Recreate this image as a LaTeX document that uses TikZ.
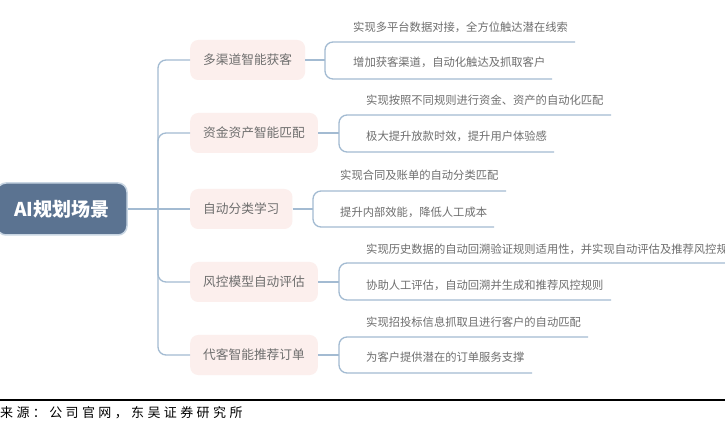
\documentclass[tikz,border=0pt]{standalone}
\usepackage{fontspec}
\setmainfont{Noto Sans CJK SC}
\newfontfamily\cjk{Noto Sans CJK SC}
\newfontfamily\cjkfoot[LetterSpace=26]{Noto Sans CJK SC}
\definecolor{lineblue}{HTML}{A3BBD2}
\definecolor{rootfill}{HTML}{5B7391}
\definecolor{rootedge}{HTML}{C9D6E3}
\definecolor{pinkfill}{HTML}{FCEFED}
\definecolor{txtgray}{HTML}{6E6E6E}
\begin{document}
\begin{tikzpicture}[x=1pt,y=-1pt,
  conn/.style={draw=lineblue,line width=1.3pt,rounded corners=8pt},
  rootbox/.style={draw=rootedge,line width=1.5pt,fill=rootfill,rounded corners=9pt,
    minimum width=130pt,minimum height=52pt,inner sep=0pt,text=white,
    font=\cjk\bfseries\fontsize{19}{22}\selectfont},
  catbox/.style={fill=pinkfill,rounded corners=8pt,inner xsep=13pt,inner ysep=0pt,
    minimum height=40pt,anchor=west,text=txtgray,font=\cjk\fontsize{12.7}{15}\selectfont},
  leaf/.style={anchor=west,inner sep=0pt,text=txtgray,font=\cjk\fontsize{11.3}{13}\selectfont},
]
\useasboundingbox (0,0) rectangle (725,427);
\fill[white] (0,0) rectangle (725,427);

% root
\node[rootbox] (root) at (62,209) {AI规划场景};

% categories
\node[catbox] (c1) at (190,60) {多渠道智能获客};
\node[catbox] (c2) at (190,133) {资金资产智能匹配};
\node[catbox] (c3) at (190,209) {自动分类学习};
\node[catbox] (c4) at (190,282) {风控模型自动评估};
\node[catbox] (c5) at (190,355) {代客智能推荐订单};

% trunk
\coordinate (tj) at (158,209);
\draw[conn] (root.east) -- (c3.west);
\draw[conn] (tj) -- (158,60) -- (c1.west);
\draw[conn] (tj) -- (158,133) -- (c2.west);
\draw[conn] (tj) -- (158,282) -- (c4.west);
\draw[conn] (tj) -- (158,355) -- (c5.west);

% c1
\coordinate (b1) at (325,60);
\coordinate (t1) at (575,42);
\coordinate (u1) at (552,79);
\draw[conn] (c1.east) -- (b1);
\draw[conn] (t1) -- (325,42) -- (325,79) -- (u1);
\node[leaf] (l1a) at (353,27) {实现多平台数据对接，全方位触达潜在线索};
\node[leaf] (l1b) at (353,62) {增加获客渠道，自动化触达及抓取客户};

% c2
\coordinate (b2) at (339,133);
\coordinate (t2) at (611,115);
\coordinate (u2) at (554,152);
\draw[conn] (c2.east) -- (b2);
\draw[conn] (t2) -- (339,115) -- (339,152) -- (u2);
\node[leaf] (l2a) at (366,100) {实现按照不同规则进行资金、资产的自动化匹配};
\node[leaf] (l2b) at (366,136) {极大提升放款时效，提升用户体验感};

% c3
\coordinate (b3) at (313,209);
\coordinate (t3) at (506,191);
\coordinate (u3) at (494,227);
\draw[conn] (c3.east) -- (b3);
\draw[conn] (t3) -- (313,191) -- (313,227) -- (u3);
\node[leaf] (l3a) at (340,175) {实现合同及账单的自动分类匹配};
\node[leaf] (l3b) at (340,212) {提升内部效能，降低人工成本};

% c4
\coordinate (b4) at (339,282);
\coordinate (t4) at (725,263);
\coordinate (u4) at (611,300);
\draw[conn] (c4.east) -- (b4);
\draw[conn] (t4) -- (339,263) -- (339,300) -- (u4);
\begin{scope}
\clip (0,0) rectangle (725,427);
\node[leaf] (l4a) at (366,249) {实现历史数据的自动回溯验证规则适用性，并实现自动评估及推荐风控规则};
\end{scope}
\node[leaf] (l4b) at (366,285) {协助人工评估，自动回溯并生成和推荐风控规则};

% c5
\coordinate (b5) at (339,355);
\coordinate (t5) at (588,337);
\coordinate (u5) at (532,373);
\draw[conn] (c5.east) -- (b5);
\draw[conn] (t5) -- (339,337) -- (339,373) -- (u5);
\node[leaf] (l5a) at (366,322) {实现招投标信息抓取且进行客户的自动匹配};
\node[leaf] (l5b) at (366,357) {为客户提供潜在的订单服务支撑};

% footer
\coordinate (fl) at (0,400);
\coordinate (fr) at (725,400);
\draw[black,line width=1.5pt] (fl) -- (fr);
\node[anchor=west,inner sep=0pt,font=\cjkfoot\fontsize{13}{15}\selectfont] (src) at (0,413) {来源：公司官网，东吴证券研究所};
\end{tikzpicture}
\end{document}
